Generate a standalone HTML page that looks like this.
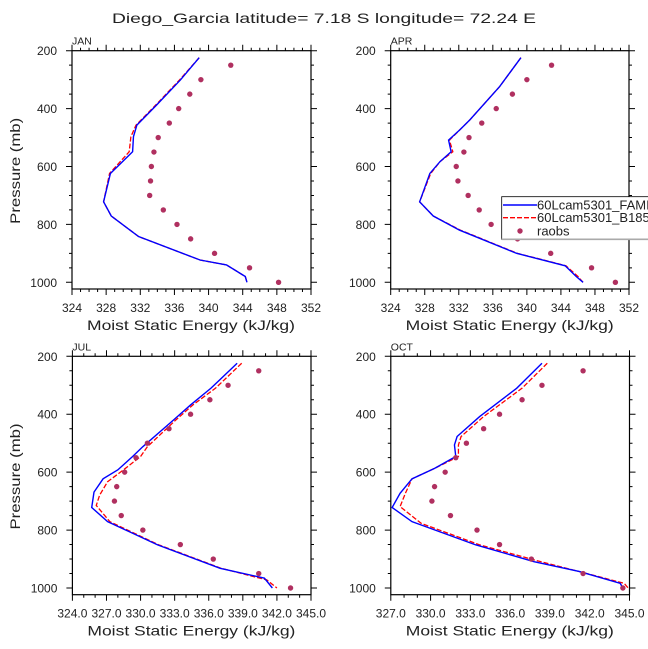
<!DOCTYPE html>
<html><head><meta charset="utf-8"><style>
html,body{margin:0;padding:0;background:#fff}
svg{display:block}
text{font-family:"Liberation Sans",sans-serif;fill:#222}
</style></head><body>
<svg id="chart" width="648" height="649" viewBox="0 0 648 649" xmlns="http://www.w3.org/2000/svg">
<text x="112" y="23" font-size="14" textLength="424" lengthAdjust="spacingAndGlyphs">Diego_Garcia  latitude= 7.18 S longitude= 72.24 E</text>
</svg>
<script>
// ---- data ----
const panelNames = ["JAN","APR","JUL","OCT"];
const raobP = [250,300,350,400,450,500,550,600,650,700,750,800,850,900,950,1000];
const janRaob = [342.6,339.1,337.8,336.5,335.4,334.1,333.6,333.3,333.2,333.1,334.7,336.3,337.9,340.7,344.8,348.2];
const aprRaob = [342.9,340.0,338.3,336.4,334.7,333.2,332.6,331.7,331.9,333.1,334.4,335.8,338.9,342.8,347.6,350.4];
const julRaob = [340.4,337.7,336.1,334.4,332.5,330.6,329.6,328.6,327.9,327.7,328.3,330.2,333.5,336.4,340.4,343.2];
const octRaob = [341.5,338.4,336.9,335.2,334.0,332.7,331.9,331.1,330.3,330.1,331.5,333.5,335.2,337.6,341.5,344.5];

const janP = [224,301,388,457,497,549,624,722,771,842,923,940,980,1000];
const janFA = [338.9,336.7,333.9,331.6,331.2,331.1,328.5,327.7,328.6,331.8,339.0,342.1,344.3,344.5];
const janB1 = [338.9,336.6,333.8,331.5,330.9,330.7,328.4,327.7,328.6,331.8,339.0,342.1,344.3,344.5];

const aprP = [224,324,439,474,509,549,583,624,722,771,820,900,943,980,1000];
const aprFA = [339.3,336.8,333.3,332.1,330.8,331.1,329.8,328.6,327.4,329.0,332.1,338.8,344.5,345.8,346.6];
const aprB1 = [339.3,336.8,333.3,332.1,330.9,331.3,329.8,328.7,327.4,329.0,332.2,338.9,344.6,346.0,346.6];

const julP = [224,310,368,420,512,546,592,623,669,722,771,851,932,966,1000];
const julFA = [338.5,336.2,334.4,332.9,330.2,329.3,328.0,326.7,325.9,325.7,327.1,331.5,337.0,340.9,341.6];
const julP2 = [224,310,368,420,512,546,592,633,679,715,771,851,932,972,1000];
const julB1 = [338.9,336.6,334.6,333.1,330.6,330.0,328.5,327.1,326.4,326.1,327.3,331.6,337.1,341.1,342.0];

const octP = [224,310,408,477,506,546,587,623,673,722,771,851,909,943,984,1000];
const octFA = [338.4,336.5,333.7,332.0,331.8,331.9,330.3,328.6,327.7,327.1,328.6,333.4,337.8,341.2,344.3,344.5];
const octP2 = [224,310,408,477,506,546,587,623,673,719,777,851,903,943,984,1000];
const octB1 = [338.8,336.9,334.0,332.3,332.1,332.1,330.3,328.6,328.1,327.7,329.3,333.7,337.8,341.2,344.6,344.9];

const janXTicks = [324,328,332,336,340,344,348,352];
const julXTicks = ["324.0","327.0","330.0","333.0","336.0","339.0","342.0","345.0"];
const octXTicks = ["327.0","330.0","333.0","336.0","339.0","342.0","345.0"];
const yTicks = [200,400,600,800,1000];

// ---- layout ----
const svg = document.getElementById('chart');
const NS = 'http://www.w3.org/2000/svg';
function mk(tag, attrs, parent){
  const e = document.createElementNS(NS, tag);
  for (const k in attrs) e.setAttribute(k, attrs[k]);
  (parent||svg).appendChild(e);
  return e;
}
const panels = [
  {name:"JAN", x0:72, x1:311, y200:50.7, y1000:282.3, yb:289, xmin:324, xmax:352, xt:janXTicks, minor:1, P:janP, FA:janFA, P2:janP, B1:janB1, R:janRaob, ylabel:true},
  {name:"APR", x0:390.7, x1:629, y200:50.7, y1000:282.3, yb:289, xmin:324, xmax:352, xt:janXTicks, minor:1, P:aprP, FA:aprFA, P2:aprP, B1:aprB1, R:aprRaob, ylabel:false},
  {name:"JUL", x0:72.4, x1:311, y200:356.3, y1000:588, yb:594.7, xmin:324, xmax:345, xt:julXTicks, minor:1, P:julP, FA:julFA, P2:julP2, B1:julB1, R:julRaob, ylabel:true},
  {name:"OCT", x0:390.8, x1:629.5, y200:356.3, y1000:588, yb:594.7, xmin:327, xmax:345, xt:octXTicks, minor:1, P:octP, FA:octFA, P2:octP2, B1:octB1, R:octRaob, ylabel:false}
];

panels.forEach(pn => {
  const g = mk('g', {});
  
  
  const xs = v => pn.x0 + (v - pn.xmin) / (pn.xmax - pn.xmin) * (pn.x1 - pn.x0);
  const ys = p => pn.y200 + (p - 200) / 800 * (pn.y1000 - pn.y200);
  const yt = pn.y200, yb = pn.yb;
  // ticks
  let tk = '';
  for (let v = pn.xmin; v <= pn.xmax + 1e-6; v += pn.minor) {
    const x = xs(v);
    const isMaj = pn.xt.some(t => Math.abs(parseFloat(t) - v) < 1e-6);
    const L = isMaj ? 6 : 3;
    tk += `M${x},${yb}v${L}M${x},${yt}v${-L}`;
  }
  for (let p = 200; p <= 1000; p += 50) {
    const y = ys(p);
    const L = (p % 200 === 0) ? 6 : 3;
    tk += `M${pn.x0},${y}h${-L}M${pn.x1},${y}h${L}`;
  }
  const ticks = mk('path', {d: tk, stroke:'#000', 'stroke-width':1, fill:'none'}, g);
  
  
  const frame = mk('rect', {x:pn.x0, y:yt, width:pn.x1-pn.x0, height:yb-yt, fill:'none', stroke:'#000', 'stroke-width':1.2}, g);
  
  
  // tick labels
  pn.xt.forEach(t => {
    const tx = mk('text', {x: xs(parseFloat(t)), y: yb + 23, 'font-size':12, 'text-anchor':'middle'}, g);
    
    
    tx.textContent = t;
  });
  yTicks.forEach(p => {
    const tx = mk('text', {x: pn.x0 - 15, y: ys(p) + 4.5, 'font-size':12, 'text-anchor':'end'}, g);
    
    
    tx.textContent = p;
  });
  const title = mk('text', {x: pn.x0, y: yt - 6, 'font-size':10.5}, g);
  
  
  title.textContent = pn.name;
  const xl = mk('text', {x: pn.x0 + 15, y: yb + 41, 'font-size':14, textLength:208, lengthAdjust:'spacingAndGlyphs'}, g);
  
  
  xl.textContent = 'Moist Static Energy (kJ/kg)';
  if (pn.ylabel) {
    const cy = (yt + yb) / 2 + 1;
    const yl = mk('text', {x: 0, y: 0, 'font-size':14, 'text-anchor':'middle', transform:`translate(20,${cy}) rotate(-90)`, textLength:106, lengthAdjust:'spacingAndGlyphs'}, g);
    
    
    yl.textContent = 'Pressure (mb)';
  }
  // series
  const b1 = mk('polyline', {points: pn.B1.map((v,i)=>`${xs(v)},${ys(pn.P2[i])}`).join(' '), fill:'none', stroke:'#ff0000', 'stroke-width':1.3, 'stroke-dasharray':'5,2'}, g);
  
  
  const fa = mk('polyline', {points: pn.FA.map((v,i)=>`${xs(v)},${ys(pn.P[i])}`).join(' '), fill:'none', stroke:'#0000ff', 'stroke-width':1.4}, g);
  
  
  pn.R.forEach((v,i) => {
    const c = mk('circle', {cx: xs(v), cy: ys(raobP[i]), r: 2.7, fill:'#b03060'}, g);
    
    
  });
});

// legend
const lg = mk('g', {});


const lbg = mk('rect', {x:501.7, y:196.7, width:160, height:42.6, fill:'#fff', stroke:'#000', 'stroke-width':0.8}, lg);


const lbl = mk('line', {x1:501.7, y1:239.3, x2:648, y2:239.3, stroke:'#aaa', 'stroke-width':1.6}, lg);


const l1 = mk('line', {x1:503, y1:205, x2:537, y2:205, stroke:'#0000ff', 'stroke-width':1.5}, lg);


const l2 = mk('line', {x1:503, y1:217.7, x2:537, y2:217.7, stroke:'#ff0000', 'stroke-width':1.3, 'stroke-dasharray':'5,2'}, lg);


const l3 = mk('circle', {cx:520, cy:231, r:2.7, fill:'#b03060'}, lg);


[["60Lcam5301_FAMIP",209.5,'legend-entry-fa'],["60Lcam5301_B1850",222,'legend-entry-b1'],["raobs",235.5,'legend-entry-raobs']].forEach(e => {
  const t = mk('text', {x:537, y:e[1], 'font-size':13}, lg);
  
  
  t.textContent = e[0];
});
</script>
</body></html>
